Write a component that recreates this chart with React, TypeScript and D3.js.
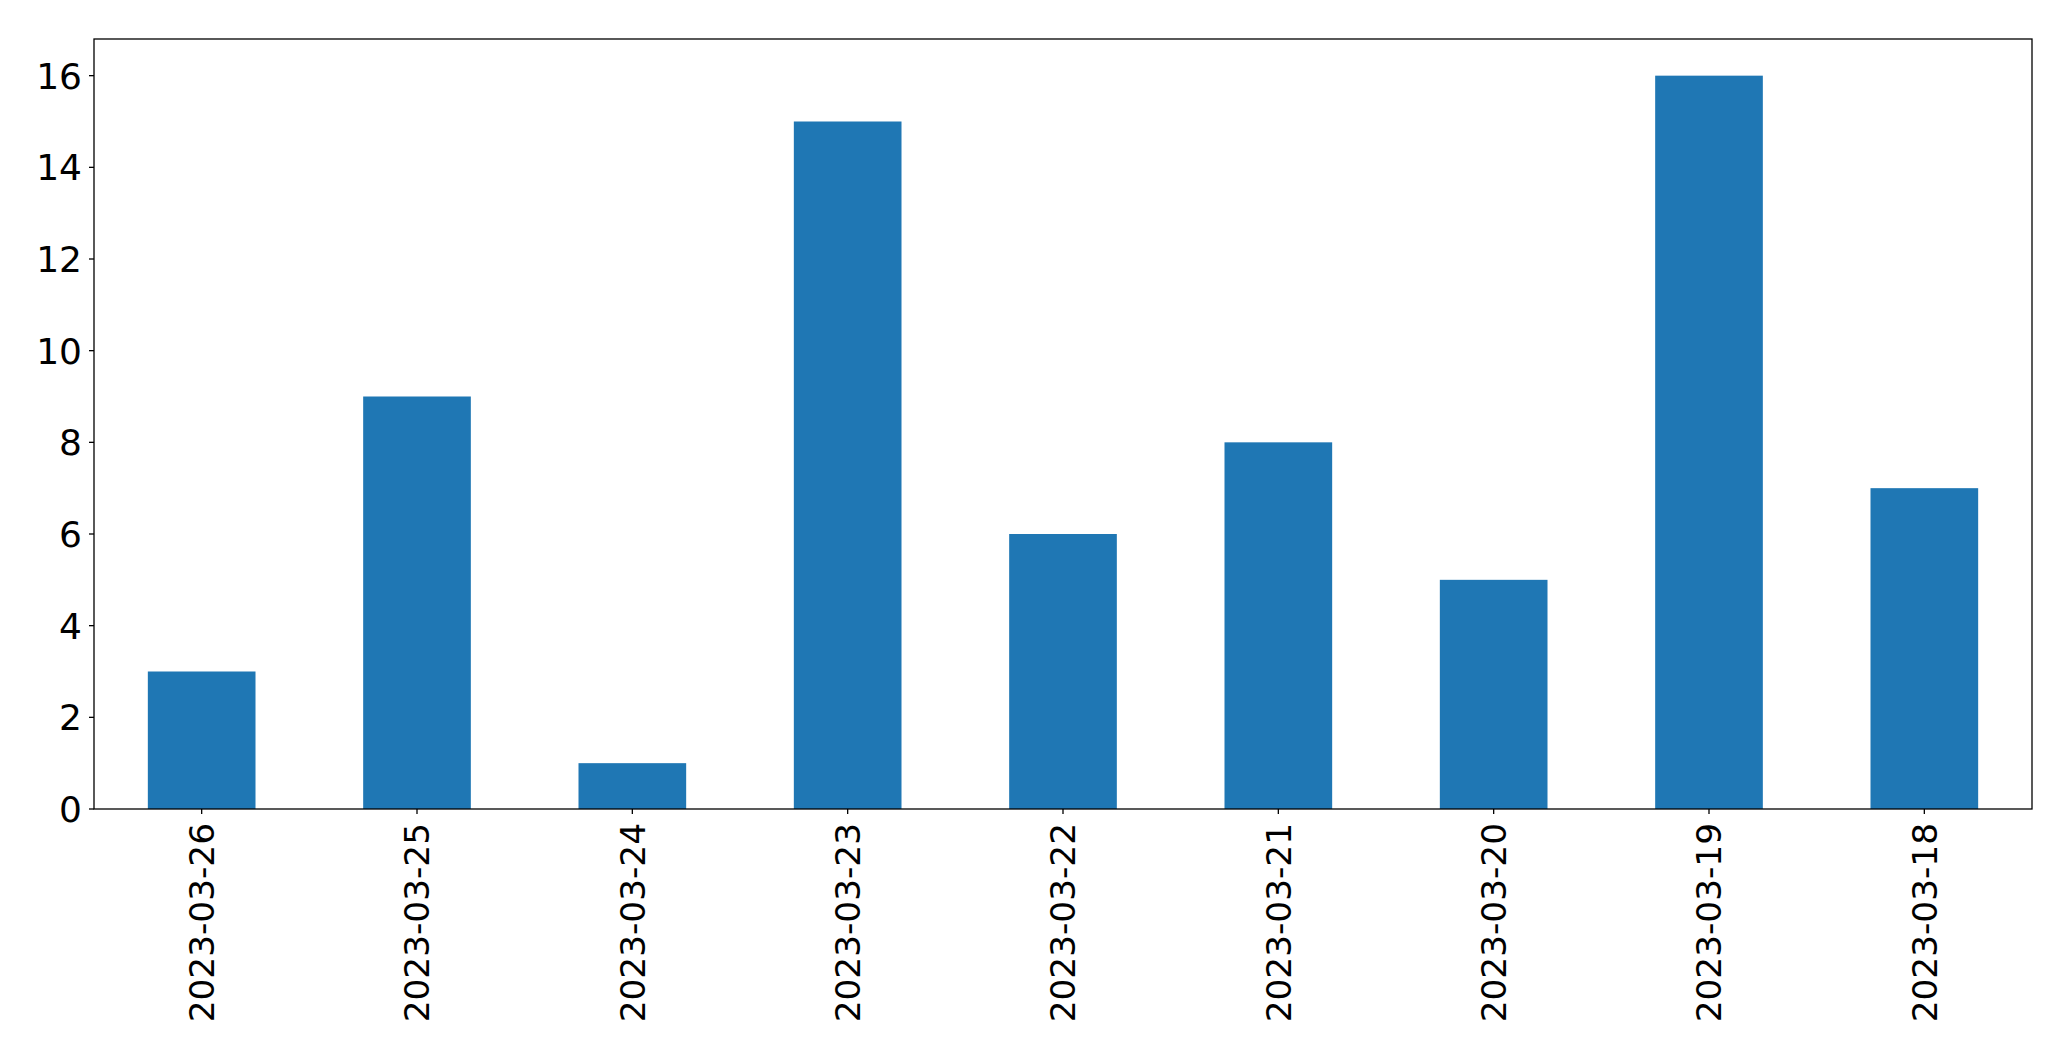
import React from "react";
import * as d3 from "d3";

const categories = ["2023-03-26", "2023-03-25", "2023-03-24", "2023-03-23", "2023-03-22", "2023-03-21", "2023-03-20", "2023-03-19", "2023-03-18"];
const values = [3, 9, 1, 15, 6, 8, 5, 16, 7];
const yTicks = [0, 2, 4, 6, 8, 10, 12, 14, 16];

const W = 2071;
const H = 1061;
const M = { left: 94, right: 2032, top: 39, bottom: 809 };
const FONT = "'DejaVu Sans', sans-serif";
const FS_Y = 36;
const FS_X = 34.3;

export default function App() {
  const x = d3.scaleLinear().domain([-0.5, categories.length - 0.5]).range([M.left, M.right]);
  const y = d3.scaleLinear().domain([0, 16.8]).range([M.bottom, M.top]);
  const bw = x(0.25) - x(-0.25);
  return (
    <svg width={W} height={H} style={{ position: "fixed", left: 0, top: 0, background: "#fff" }}>
      <rect x={0} y={0} width={W} height={H} fill="#fff" />
      {values.map((v, i) => (
        <rect key={i} x={x(i) - bw / 2} y={y(v)} width={bw} height={y(0) - y(v)} fill="#1f77b4" />
      ))}
      <rect x={M.left} y={M.top} width={M.right - M.left} height={M.bottom - M.top} fill="none" stroke="#000" strokeWidth={1.3} />
      {yTicks.map((t) => (
        <g key={t}>
          <line x1={M.left - 5} x2={M.left} y1={y(t)} y2={y(t)} stroke="#000" strokeWidth={1.3} />
          <text x={M.left - 12} y={y(t)} dy="0.36em" textAnchor="end" fontFamily={FONT} fontSize={FS_Y} fill="#000">{t}</text>
        </g>
      ))}
      {categories.map((c, i) => (
        <g key={c}>
          <line x1={x(i)} x2={x(i)} y1={M.bottom} y2={M.bottom + 5} stroke="#000" strokeWidth={1.3} />
          <text transform={`translate(${x(i)},${M.bottom + 14}) rotate(-90)`} dy="0.36em" textAnchor="end" fontFamily={FONT} fontSize={FS_X} fill="#000">{c}</text>
        </g>
      ))}
    </svg>
  );
}
